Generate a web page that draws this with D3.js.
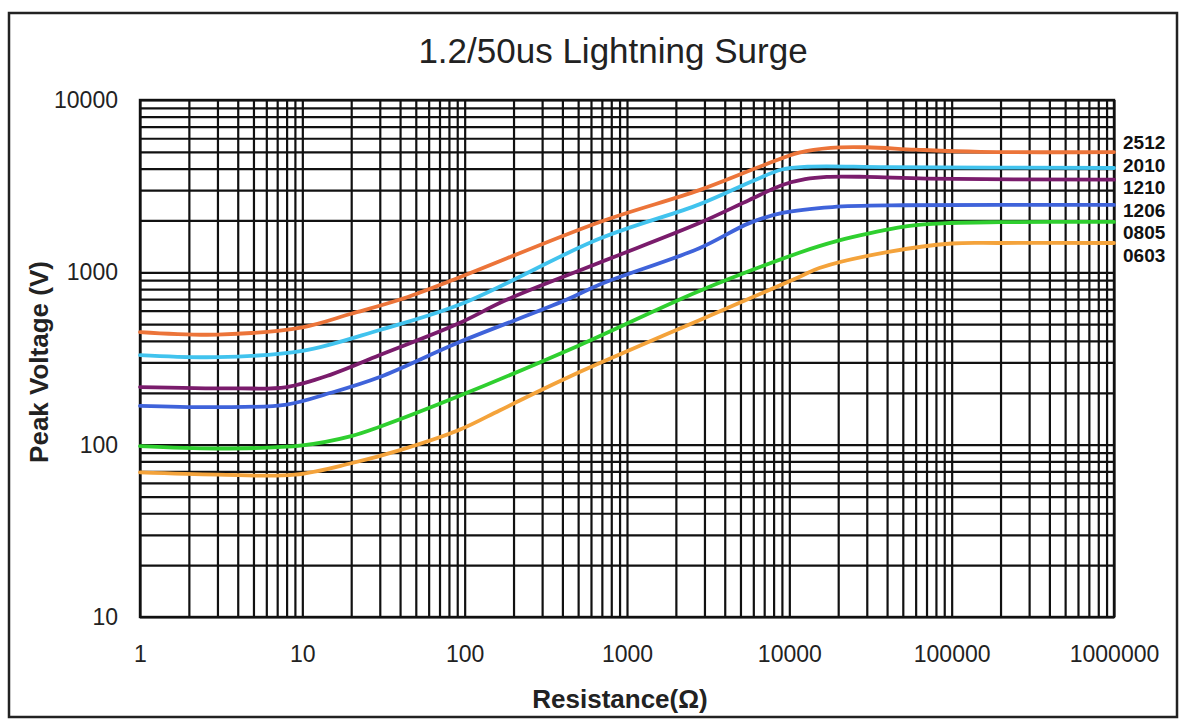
<!DOCTYPE html>
<html>
<head>
<meta charset="utf-8">
<script src="https://cdn.jsdelivr.net/npm/d3@7"></script>
<style>
  html, body { margin: 0; padding: 0; background: #fff; }
  svg { display: block; font-family: "Liberation Sans", Arial, sans-serif; }
</style>
</head>
<body>
<svg id="chart" width="1190" height="727"></svg>
<script>
// ---- Data ----
const chartTitle = "1.2/50us Lightning Surge";
const xTitle = "Resistance(Ω)";
const yTitle = "Peak Voltage (V)";
const xTickLabels = ["1", "10", "100", "1000", "10000", "100000", "1000000"];
const yTickLabels = ["10", "100", "1000", "10000"];
const seriesNames = ["2512", "2010", "1210", "1206", "0805", "0603"];
const seriesColors = ["#EC7439", "#41C3EE", "#7A1C6C", "#3F63DA", "#2FCF2F", "#F4A33B"];

// [resistance (Ω), peak voltage (V)]
const s2512 = [[1,450],[3,435],[10,480],[20,575],[40,695],[90,925],[680,1960],[2790,3000],[7000,4200],[11500,4950],[18000,5280],[30000,5320],[60000,5150],[150000,5000],[1000000,4990]];
const s2010 = [[1,331],[3,322],[10,350],[30,463],[95,655],[680,1570],[2790,2480],[6000,3400],[9000,3950],[13000,4100],[40000,4080],[1000000,4030]];
const s1210 = [[1,216],[4,212],[8,216],[15,255],[30,331],[90,501],[180,690],[680,1140],[2790,1933],[5670,2630],[9060,3210],[12500,3470],[17000,3580],[30000,3580],[70000,3500],[1000000,3450]];
const s1206 = [[1,168],[3,165],[8,171],[15,200],[30,247],[90,389],[420,690],[680,850],[2790,1380],[5670,1930],[9060,2210],[18400,2390],[50000,2450],[1000000,2460]];
const s0805 = [[1,98],[3,95],[10,99],[20,112],[30,127],[93,192],[510,378],[2790,780],[11500,1300],[15300,1420],[24400,1600],[55000,1860],[93000,1930],[200000,1955],[1000000,1960]];
const s0603 = [[1,69],[3,67],[9,67],[20,78],[40,93],[93,122],[164,158],[288,205],[510,264],[680,298],[2790,528],[11500,940],[15300,1060],[40000,1310],[100000,1470],[200000,1480],[1000000,1480]];
const seriesValues = [s2512, s2010, s1210, s1206, s0805, s0603];

// ---- Layout ----
const svg = d3.select("#chart");
const plot = { left: 140, right: 1114, top: 100, bottom: 617 };

const x = d3.scaleLog().domain([1, 1e6]).range([plot.left, plot.right]);
const y = d3.scaleLog().domain([10, 1e4]).range([plot.bottom, plot.top]);

// outer frame
svg.append("rect")
  .attr("x", 9).attr("y", 13).attr("width", 1168).attr("height", 704)
  .attr("fill", "none").attr("stroke", "#222").attr("stroke-width", 2.5);

// title
svg.append("text")
  .attr("x", 613).attr("y", 63)
  .attr("text-anchor", "middle")
  .attr("font-size", 35).attr("fill", "#222")
  .text(chartTitle);

// grid via axes
const gx = svg.append("g")
  .attr("transform", `translate(0,${plot.bottom})`)
  .call(d3.axisBottom(x).tickValues(x.ticks()).tickSize(-(plot.bottom - plot.top)).tickFormat(""));
gx.select(".domain").remove();
gx.selectAll("line").attr("stroke", "#111").attr("stroke-width", 2.2);

const gy = svg.append("g")
  .attr("transform", `translate(${plot.left},0)`)
  .call(d3.axisLeft(y).tickValues(y.ticks()).tickSize(-(plot.right - plot.left)).tickFormat(""));
gy.select(".domain").remove();
gy.selectAll("line").attr("stroke", "#111").attr("stroke-width", 2.2);

// plot border
svg.append("rect")
  .attr("x", plot.left).attr("y", plot.top)
  .attr("width", plot.right - plot.left).attr("height", plot.bottom - plot.top)
  .attr("fill", "none").attr("stroke", "#111").attr("stroke-width", 2.4);

// tick labels
const xLab = svg.append("g")
  .attr("transform", `translate(0,${plot.bottom})`)
  .call(d3.axisBottom(x).tickValues(xTickLabels.map(Number)).tickSize(0).tickPadding(29)
        .tickFormat((d, i) => xTickLabels[i]));
xLab.select(".domain").remove();
xLab.selectAll("text").attr("font-size", 23).attr("fill", "#222")
  .attr("font-family", "Liberation Sans, Arial, sans-serif");

const yLab = svg.append("g")
  .attr("transform", `translate(${plot.left},0)`)
  .call(d3.axisLeft(y).tickValues(yTickLabels.map(Number)).tickSize(0).tickPadding(22)
        .tickFormat((d, i) => yTickLabels[i]));
yLab.select(".domain").remove();
yLab.selectAll("text").attr("font-size", 23).attr("fill", "#222")
  .attr("font-family", "Liberation Sans, Arial, sans-serif");

// axis titles
svg.append("text")
  .attr("x", 620).attr("y", 708)
  .attr("text-anchor", "middle")
  .attr("font-size", 26).attr("font-weight", "bold").attr("fill", "#222")
  .text(xTitle);

svg.append("text")
  .attr("transform", `translate(48,362) rotate(-90)`)
  .attr("text-anchor", "middle")
  .attr("font-size", 26).attr("font-weight", "bold").attr("fill", "#222")
  .text(yTitle);

// curves
const line = d3.line()
  .x(d => x(d[0]))
  .y(d => y(d[1]))
  .curve(d3.curveCatmullRom.alpha(0.5));

svg.append("g").selectAll("path")
  .data(seriesValues)
  .join("path")
  .attr("d", line)
  .attr("fill", "none")
  .attr("stroke", (d, i) => seriesColors[i])
  .attr("stroke-width", 3.8)
  .attr("stroke-linecap", "round")
  .attr("stroke-linejoin", "round");

// series labels at right, spread evenly around the line ends
const ends = seriesValues.map(s => y(s[s.length - 1][1]));
const center = d3.mean(ends) + 4;
const step = 22.6;
svg.append("g").selectAll("text")
  .data(seriesNames)
  .join("text")
  .attr("x", plot.right + 9)
  .attr("y", (d, i) => center + (i - (seriesNames.length - 1) / 2) * step)
  .attr("dy", "0.35em")
  .attr("font-size", 19).attr("font-weight", "bold").attr("fill", "#111")
  .text(d => d);
</script>
</body>
</html>
